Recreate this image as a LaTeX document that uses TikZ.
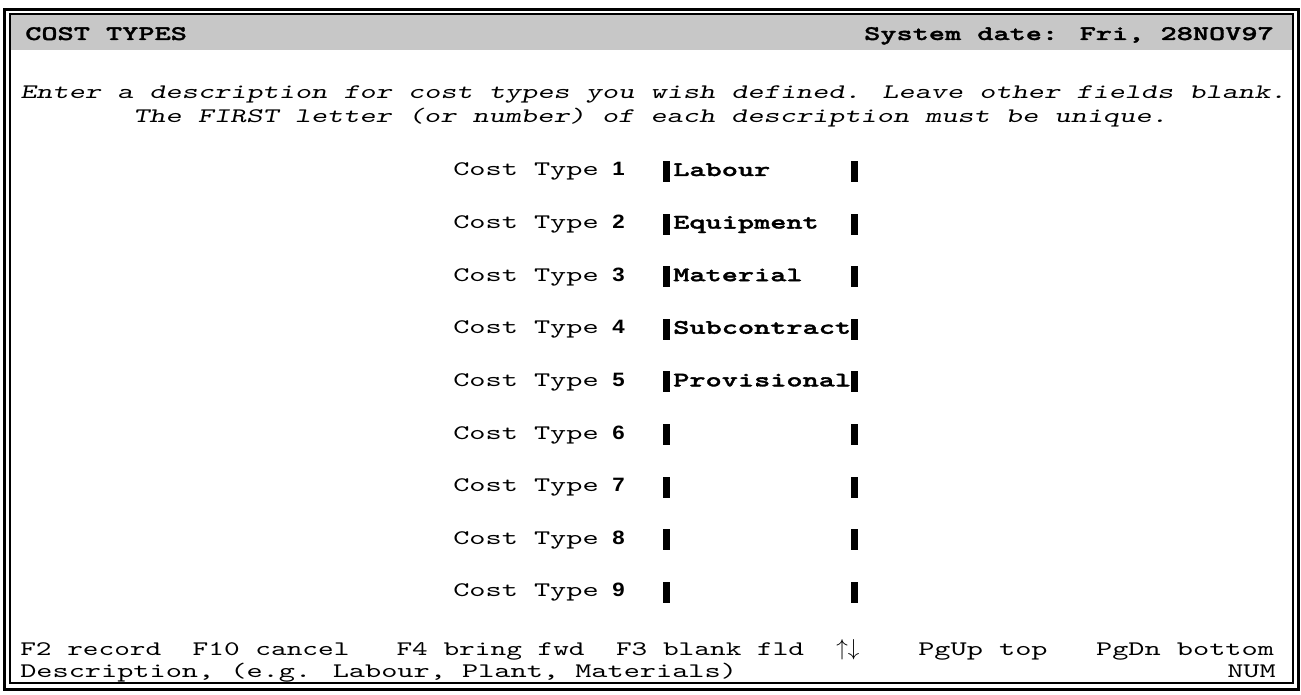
\documentclass[tikz,border=0pt]{standalone}
\usepackage{fontspec}
\newfontfamily\mono{lmmono10-regular.otf}[FakeStretch=1.49, BoldFont=lmmonolt10-bold.otf, BoldFeatures={FakeBold=1.6}, ItalicFont=lmmono10-regular.otf, ItalicFeatures={FakeSlant=0.2}]
\newfontfamily\monon{lmmono10-regular.otf}[FakeStretch=1.445]
\newfontfamily\dig{Liberation Sans}[FakeStretch=1.15]
\definecolor{hdr}{gray}{0.78}
\tikzset{
  txt/.style={inner sep=0pt, anchor=base west, font=\mono\fontsize{15.5}{18}\selectfont},
  txtn/.style={inner sep=0pt, anchor=base west, font=\monon\fontsize{15.5}{18}\selectfont},
  txtr/.style={txt, anchor=base east},
  num/.style={inner sep=0pt, anchor=base west, font=\dig\bfseries\fontsize{14.5}{17}\selectfont},
  bar/.style={fill=black},
}
\begin{document}
\begin{tikzpicture}[x=0.75pt,y=-0.75pt]
\useasboundingbox (0,0) rectangle (1301,695);
\fill[white] (0,0) rectangle (1301,695);
% frame
\fill[hdr] (11,15) rectangle (1292,50);
\draw[line width=2.4pt] (4.5,9.5) rectangle (1298.5,689.5);
\draw[line width=1.5pt] (10,14) rectangle (1293,683);
% header
\node[txt] (title) at (25,40) {\bfseries COST TYPES};
\node[txtr] (date) at (1274,40) {\bfseries System date: Fri, 28NOV97};
% instructions
\node[txt] (ins1) at (20,99) {\itshape Enter a description for cost types you wish defined. Leave other fields blank.};
\node[txt] (ins2) at (133,123) {\itshape The FIRST letter (or number) of each description must be unique.};
% rows
\foreach \i/\name in {1/Labour,2/Equipment,3/Material,4/Subcontract,5/Provisional,6/,7/,8/,9/}{
  \pgfmathsetmacro{\b}{176+(\i-1)*52.6}
  \node[txt] (lab\i) at (453,\b) {Cost Type};
  \node[num] (n\i) at (612,\b) {\i};
  \fill[bar] (663,\b-15) rectangle (670,\b+6);
  \fill[bar] (851,\b-15) rectangle (858,\b+6);
  \node[txt] (f\i) at (673,\b) {\bfseries\name};
}
% footer
\node[txtn] (keys) at (20,655) {F2 record\ \ F10 cancel\ \ \ F4 bring fwd\ \ F3 blank fld};
\node[inner sep=0pt, anchor=base west, font=\fontsize{17}{20}\selectfont] (arr) at (836,655) {$\uparrow\downarrow$};
\node[txt] (pg) at (918,655) {PgUp top\ \ \ PgDn bottom};
\node[txt] (desc) at (20,677) {Description, (e.g. Labour, Plant, Materials)};
\node[txtr] (numl) at (1276,677) {NUM};
\end{tikzpicture}
\end{document}
